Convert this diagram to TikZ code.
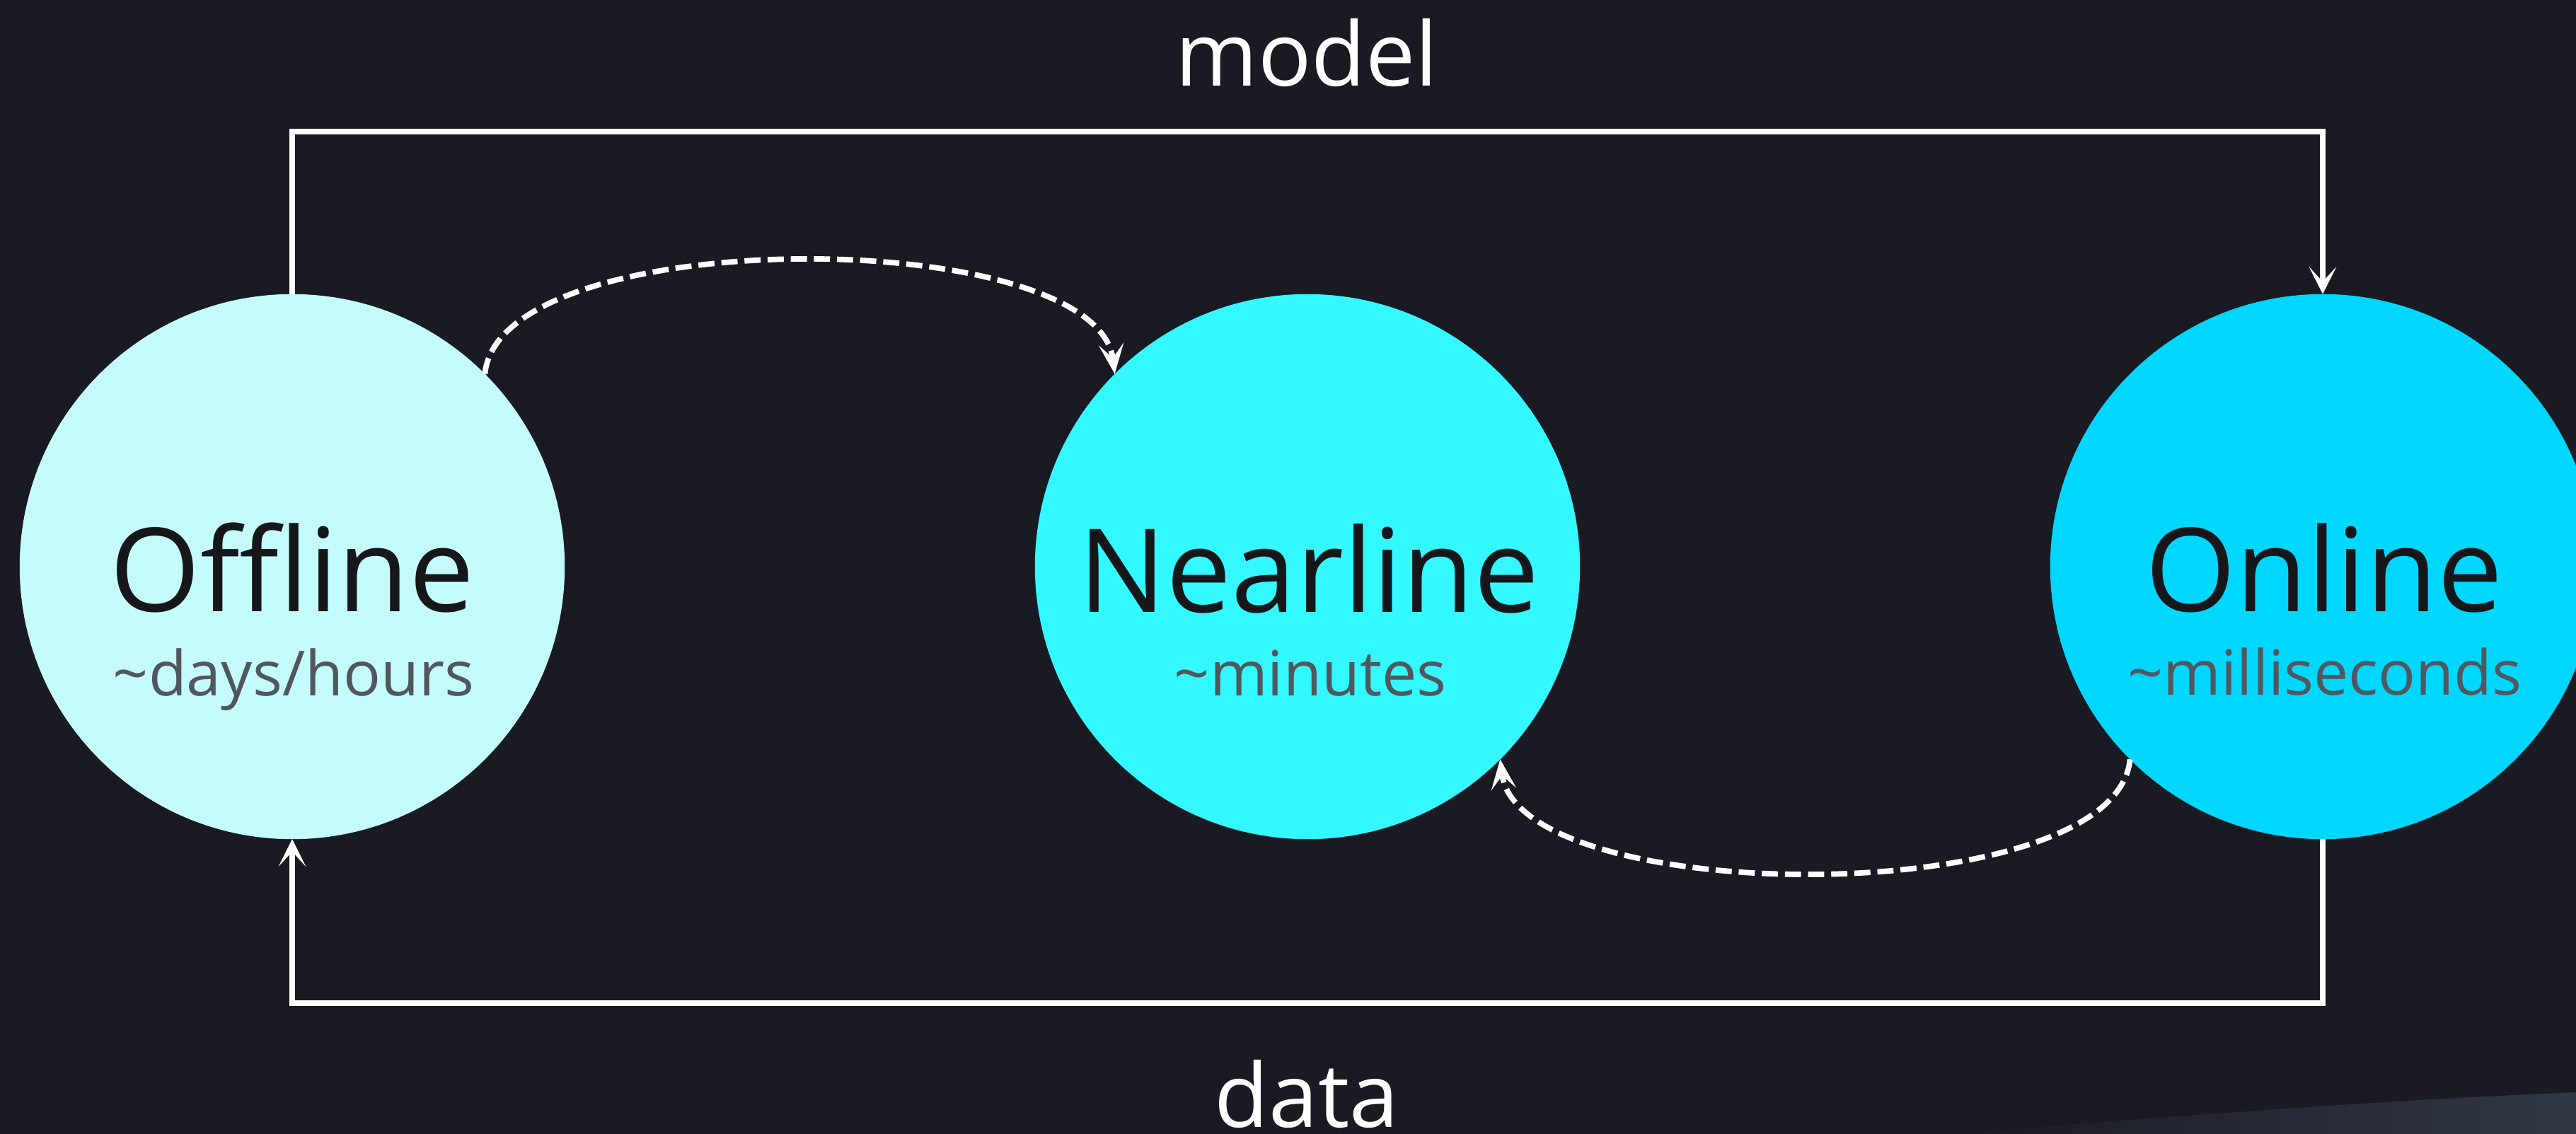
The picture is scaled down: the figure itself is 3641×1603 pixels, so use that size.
\documentclass[tikz,border=0pt]{standalone}
\usepackage{fontspec}
\setmainfont{Open Sans}
\usetikzlibrary{arrows.meta}
\definecolor{bg}{HTML}{1A1A23}
\definecolor{offc}{HTML}{C4FCFC}
\definecolor{nearc}{HTML}{33F8FF}
\definecolor{onc}{HTML}{00D7FF}
\definecolor{maintxt}{HTML}{16171A}
\definecolor{subtxt}{HTML}{52575E}
\definecolor{band}{HTML}{303744}
\begin{document}
\begin{tikzpicture}[x=0.01cm,y=-0.01cm,
  stage/.style={circle, minimum size=7.7cm, inner sep=0pt, outer sep=0pt},
  title/.style={anchor=base, text=maintxt, inner sep=0pt, font=\fontsize{46.7}{50}\selectfont},
  sub/.style={anchor=base, text=subtxt, inner sep=0pt, font=\fontsize{25}{28}\selectfont},
  flowlabel/.style={anchor=base, text=white, inner sep=0pt, font=\fontsize{35.6}{40}\selectfont},
  conn/.style={draw=white, line width=2.2pt, -{Stealth[length=11pt,width=11pt,inset=6pt]}},
  feedback/.style={draw=white, line width=2.2pt, dash pattern=on 6.5pt off 2.8pt, -{Stealth[length=12pt,width=10pt,inset=5.5pt]}}
]
\fill[bg] (0,0) rectangle (3641,1603);
\useasboundingbox (0,0) rectangle (3641,1603);
\clip (0,0) rectangle (3641,1603);
\shade[left color=bg, right color=band] (2750,1603) .. controls (3050,1580) and (3350,1556) .. (3641,1544) -- (3641,1603) -- cycle;

\node[stage, fill=offc] (off) at (413,801) {};
\node[stage, fill=nearc] (near) at (1848,801) {};
\node[stage, fill=onc] (on) at (3283,801) {};

\node[title] (offT) at (413,864) {Offline};
\node[sub] (offS) at (415,983) {\textasciitilde days/hours};
\node[title] (nearT) at (1850,865) {Nearline};
\node[sub] (nearS) at (1852,983) {\textasciitilde minutes};
\node[title] (onT) at (3285,864) {Online};
\node[sub] (onS) at (3286,982) {\textasciitilde milliseconds};
\node[flowlabel] (model) at (1847,122) {model};
\node[flowlabel] (data) at (1847,1593) {data};

\coordinate (tr) at (3283,186);
\coordinate (bl) at (413,1418);
\draw[conn] (off.north) |- (tr) -- (on.north);
\draw[conn] (on.south) |- (bl) -- (off.south);

\draw[feedback] (off.45) .. controls +(20,-215) and +(-25,-212) .. (near.135);
\draw[feedback] (on.225) .. controls +(-20,215) and +(25,212) .. (near.-45);
\end{tikzpicture}
\end{document}
